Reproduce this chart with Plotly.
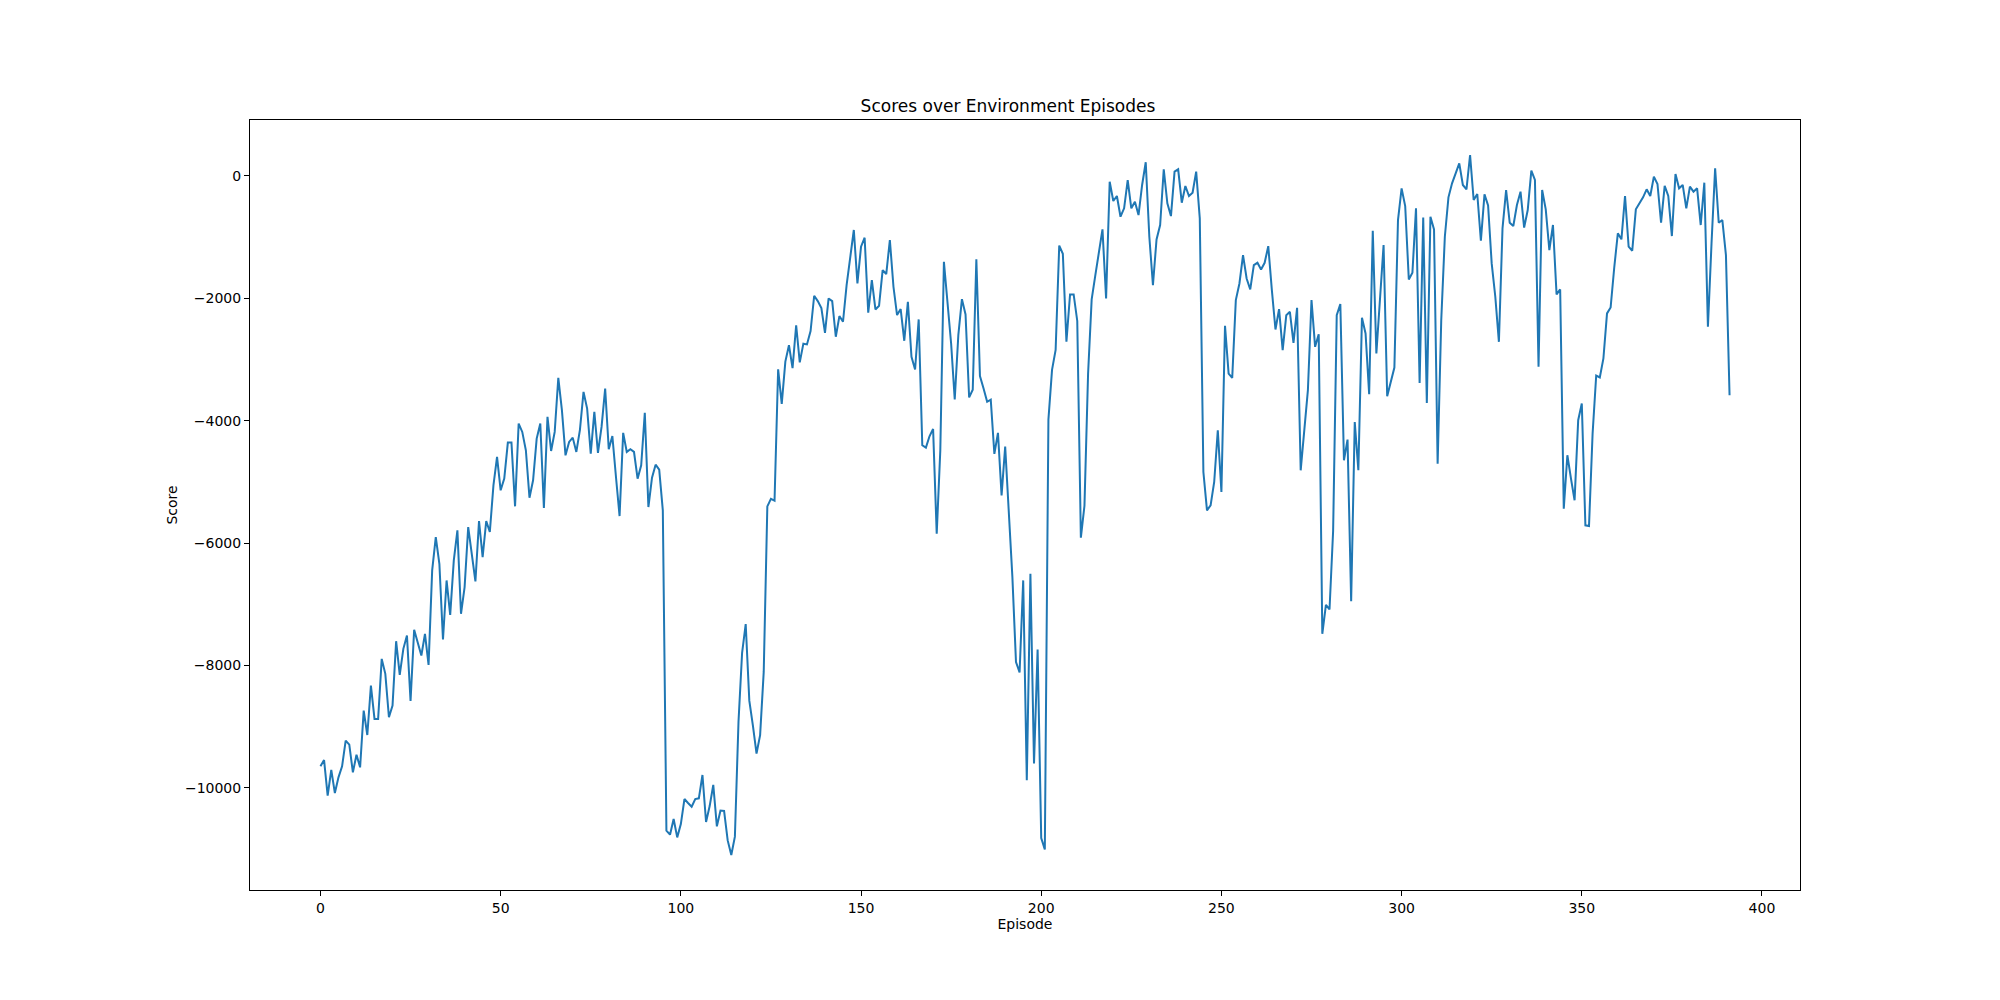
import plotly.graph_objects as go

# ---------------------------------------
# Data: score per environment episode
# ---------------------------------------
scores = [
    -9650, -9547, -10130, -9710, -10087, -9831, -9650, -9230, -9296, -9749,
    -9460, -9667, -8740, -9138, -8330, -8876, -8876, -7894, -8139, -8848,
    -8658, -7605, -8156, -7730, -7512, -8581, -7419, -7621, -7839, -7485,
    -7992, -6448, -5903, -6339, -7577, -6612, -7174, -6284, -5793, -7157,
    -6720, -5739, -6175, -6628, -5640, -6229, -5640, -5820, -5057, -4593,
    -5138, -4948, -4358, -4358, -5400, -4047, -4184, -4484, -5259, -4975,
    -4293, -4047, -5428, -3938, -4495, -4184, -3300, -3829, -4566, -4347,
    -4277, -4511, -4150, -3530, -3802, -4539, -3857, -4528, -4102, -3475,
    -4468, -4250, -4921, -5559, -4200, -4511, -4468, -4511, -4948, -4730,
    -3873, -5412, -4932, -4719, -4801, -5466, -10703, -10768, -10512, -10812,
    -10594, -10185, -10250, -10310, -10185, -10174, -9792, -10560, -10300, -9955,
    -10631, -10374, -10380, -10862, -11100, -10800, -8921, -7794, -7324, -8577,
    -8984, -9441, -9140, -8107, -5402, -5277, -5308, -3160, -3724, -3035,
    -2766, -3141, -2440, -3047, -2741, -2753, -2534, -1958, -2045, -2158,
    -2565, -2002, -2045, -2628, -2290, -2383, -1783, -1347, -883, -1756,
    -1156, -1009, -2236, -1702, -2182, -2122, -1538, -1603, -1047, -1811,
    -2274, -2176, -2694, -2056, -2956, -3163, -2345, -4402, -4440, -4255,
    -4135, -5847, -4484, -1402, -2138, -2738, -3654, -2602, -2013, -2264,
    -3620, -3494, -1360, -3271, -3474, -3691, -3657, -4544, -4199, -5222,
    -4422, -5473, -6557, -7945, -8115, -6611, -9876, -6502, -9605, -7742,
    -10825, -11008, -3982, -3169, -2844, -1137, -1272, -2708, -1936, -1936,
    -2370, -5913, -5391, -3237, -2017, -1630, -1266, -873, -2002, -93,
    -409, -327, -666, -529, -66, -529, -420, -638, -147, 224,
    -993, -1784, -1037, -802, 109, -448, -655, 71, 109, -437,
    -164, -327, -273, 71, -693, -4839, -5466, -5384, -5002, -4157,
    -5166, -2450, -3230, -3300, -2030, -1757, -1293, -1675, -1855, -1457,
    -1419, -1528, -1419, -1146, -1866, -2510, -2177, -2848, -2275, -2220,
    -2728, -2155, -4812, -4102, -3502, -2030, -2793, -2586, -7485, -7010,
    -7086, -5800, -2275, -2095, -4648, -4310, -6950, -4021, -4811, -2318,
    -2575, -3568, -895, -2902, -2029, -1129, -3600, -3366, -3131, -720,
    -202, -491, -1691, -1582, -529, -3382, -677, -3710, -666, -873,
    -4702, -2357, -993, -349, -120, 43, 207, -147, -218, 343,
    -393, -295, -1058, -300, -480, -1429, -1974, -2711, -856, -229,
    -763, -818, -474, -256, -845, -556, 88, -65, -3120, -229,
    -545, -1211, -801, -1936, -1854, -5438, -4565, -4947, -5302, -3993,
    -3720, -5711, -5722, -4211, -3262, -3294, -2983, -2247, -2150, -1500,
    -938, -1036, -327, -1156, -1222, -545, -447, -349, -218, -327,
    -11, -131, -764, -163, -327, -982, 33, -202, -147, -529,
    -174, -256, -202, -802, -109, -2466, -1100, 126, -764, -720,
    -1293, -3584,
]
episodes = list(range(len(scores)))

x_ticks = [0, 50, 100, 150, 200, 250, 300, 350, 400]
y_ticks = [-10000, -8000, -6000, -4000, -2000, 0]

# matplotlib-style 5% margins
x_pad = 0.05 * (episodes[-1] - episodes[0])
y_pad = 0.05 * (max(scores) - min(scores))

fig = go.Figure()
fig.add_trace(
    go.Scatter(x=episodes, y=scores, mode="lines",
               line=dict(color="#1f77b4", width=2), showlegend=False)
)

axis_style = dict(
    showgrid=False, zeroline=False,
    showline=True, mirror=True, linecolor="black", linewidth=1,
    ticks="outside", ticklen=5, tickwidth=1, tickcolor="black",
    tickfont=dict(size=14, color="black"),
)

# the page body adds an 8px offset, so margins are trimmed on left/top
fig.update_layout(
    width=2000, height=1000,
    margin=dict(l=242, r=208, t=112, b=118),
    paper_bgcolor="white", plot_bgcolor="white",
    font=dict(family="DejaVu Sans", size=14, color="black"),
    title=dict(text="Scores over Environment Episodes", x=0.5, xanchor="center",
               y=1 - 98 / 1000, yanchor="middle", yref="container",
               font=dict(size=17, color="black")),
    xaxis=dict(range=[episodes[0] - x_pad, episodes[-1] + x_pad],
               tickvals=x_ticks, ticktext=[str(v) for v in x_ticks],
               title=dict(text="Episode", standoff=4, font=dict(size=14)),
               **axis_style),
    yaxis=dict(range=[min(scores) - y_pad, max(scores) + y_pad],
               tickvals=y_ticks,
               ticktext=[str(v).replace("-", "\u2212") for v in y_ticks],
               title=dict(text="Score", standoff=4, font=dict(size=14)),
               **axis_style),
)

fig.write_html("out.html")
